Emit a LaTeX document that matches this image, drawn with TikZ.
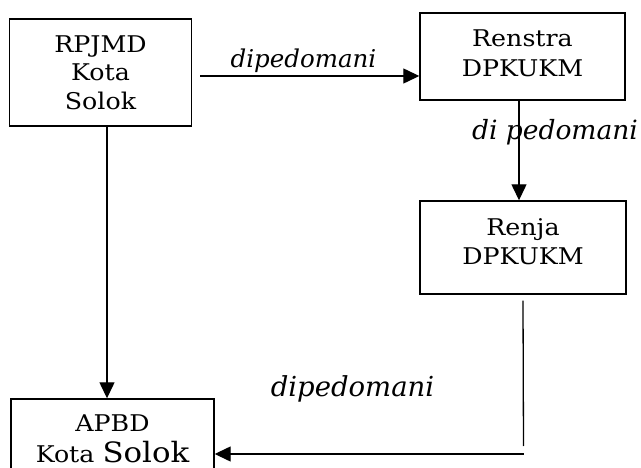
\documentclass[tikz,border=0pt]{standalone}
\usepackage{fontspec}
\setmainfont{DejaVu Serif}
\newfontfamily\boxfont{DejaVu Serif}[FakeStretch=1.1]
\usetikzlibrary{arrows.meta}
\begin{document}
\begin{tikzpicture}[x=1pt,y=-1pt,
  box/.style={draw,line width=1.4pt,align=center,inner sep=0pt,
    font=\boxfont\fontsize{23}{28.5}\selectfont},
  arr/.style={line width=1.3pt,-{Triangle[length=16pt,width=15pt]}},
  conn/.style={line width=1.3pt},
  lab/.style={font=\itshape\fontsize{24.5}{27}\selectfont,inner sep=0pt,anchor=base}]
\clip (0,0) rectangle (641,468);
\fill[white] (0,0) rectangle (641,468);
% boxes
\node[box,minimum width=182pt,minimum height=107pt] (rpjmd) at (100.5,72.5) {RPJMD\\Kota\\Solok};
\node[box,minimum width=205pt,minimum height=87pt,text depth=6pt,
  font=\boxfont\fontsize{23}{30}\selectfont] (renstra) at (522.5,56.5) {Renstra\\DPKUKM};
\node[box,minimum width=206pt,minimum height=93pt,text depth=12pt,
  font=\boxfont\fontsize{23}{29.5}\selectfont] (renja) at (523,247.5) {Renja\\DPKUKM};
\node[box,minimum width=203pt,minimum height=80pt,
  font=\boxfont\fontsize{23}{31}\selectfont] (apbd) at (112.5,439) {APBD\\Kota {\fontsize{28}{31}\selectfont Solok}};
% connectors
\coordinate (a1) at ([xshift=8pt,yshift=-3.5pt]rpjmd.east);
\draw[arr] (a1) -- (a1 -| renstra.west);
\coordinate (b1) at ([xshift=-3.5pt]renstra.south);
\draw[arr] (b1) -- (b1 |- renja.north);
\coordinate (d1) at ([xshift=6.5pt]rpjmd.south);
\draw[arr] (d1) -- (d1 |- apbd.north);
\coordinate (c1) at ([yshift=-6pt]renja.south);
\coordinate (c2) at (523.5,446);
\coordinate (c3) at (523.5,454);
\draw[conn] (c1) -- (c2);
\draw[arr] (c3) -- (c3 -| apbd.east);
% labels
\node[lab] (l1) at (303.5,68) {dipedomani};
\node[lab,font=\itshape\fontsize{26.5}{30}\selectfont] (l2) at (555,140) {di pedomani};
\node[lab,font=\itshape\fontsize{27.5}{30}\selectfont] (l3) at (352.5,396) {dipedomani};
\end{tikzpicture}
\end{document}
